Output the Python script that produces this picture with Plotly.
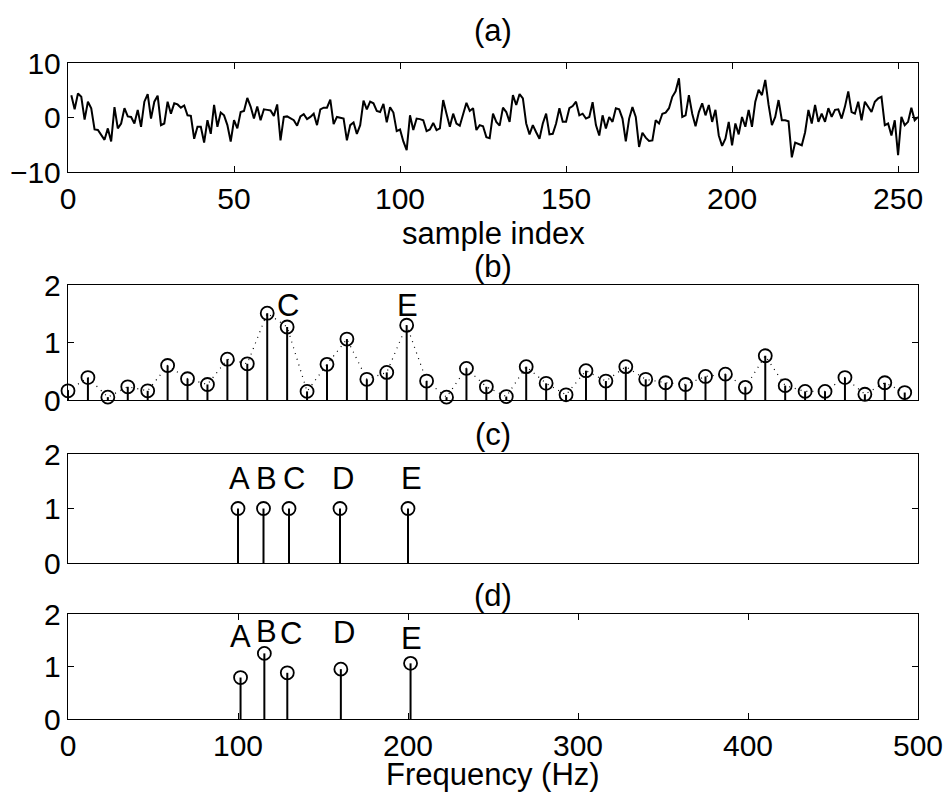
import plotly.graph_objects as go

# ---------------- data ----------------
signal = [
    4.1, 1.5, 4.4, 3.8, -0.4, 2.9, 1.7, -2.2, -2.3, -3.1,
    -4.1, -2.0, -4.4, 1.9, -2.0, -1.1, 1.7, 0.2, 0.1, -1.1,
    1.4, -1.7, 2.9, 4.3, -0.2, 2.9, 4.0, -1.4, -1.1, 2.9,
    0.7, 2.6, 2.4, 1.8, 2.2, 0.4, 0.3, -3.9, -1.7, -1.7,
    -4.6, -0.5, -3.0, 2.3, -1.7, 0.9, 0.4, -1.4, -4.4, -0.5,
    -2.0, 1.0, 1.2, 3.6, 2.0, -0.2, 2.0, -0.5, 1.5, 1.4,
    1.3, 0.3, 2.4, -4.2, 0.1, 0.2, -0.2, -0.5, -1.5, 0.2,
    0.6, -0.3, 0.1, 0.7, -1.4, 1.5, 1.8, 1.8, 3.3, -1.2,
    0.1, -0.1, -0.2, -4.2, -1.4, -0.9, -3.0, -1.4, 3.1, 1.5,
    2.9, 2.6, 1.2, 1.0, 2.5, -0.9, 1.9, 0.9, -2.5, -2.2,
    -4.4, -6.0, 0.4, -2.3, -0.2, -0.3, -0.5, -2.5, -2.2, -1.0,
    -2.3, -2.0, 3.2, 0.7, -1.7, 0.7, -1.1, -1.5, 0.7, 2.7,
    1.2, 1.7, -2.3, -1.4, -1.6, -3.6, -3.8, 0.7, -0.8, -1.5,
    1.8, 1.0, -0.8, 4.1, 2.3, 4.3, 3.5, -1.1, -3.1, -1.4,
    -2.7, -3.9, -1.1, 0.7, -3.1, -3.0, -1.1, 1.7, -0.8, -0.8,
    1.7, 2.1, 2.9, 0.4, 0.7, -0.2, 0.1, 2.8, -1.4, -3.3,
    0.4, -2.0, 0.1, -0.8, 1.7, 1.5, -0.2, -4.4, -0.2, 1.9,
    0.1, -5.4, -2.8, -3.7, -4.3, -4.2, -0.5, -1.1, 0.7, 0.9,
    1.7, 3.8, 4.8, 7.2, 0.1, 0.4, 4.1, 0.7, -1.6, 1.0,
    2.6, 0.4, 2.3, -0.8, 1.4, -3.3, -5.2, -3.9, -0.8, -5.1,
    -1.1, -3.1, 0.1, -1.7, 1.4, -1.7, 2.9, 5.1, 4.1, 6.9,
    2.3, -1.4, 0.1, 3.2, -0.5, -0.5, -0.7, -7.3, -4.6, -4.8,
    -5.1, -2.7, 1.4, -1.1, 2.3, -0.8, 0.7, -0.8, 1.7, 0.1,
    1.4, 1.5, -0.2, 2.0, 4.8, 1.0, 0.7, 2.9, -0.5, 2.9,
    2.0, 1.0, 2.9, 3.5, 3.8, -1.4, -1.1, -3.3, -0.5, -6.9,
    0.1, -1.4, -0.8, 1.8, -0.5, 0.1,
]
sample_index = list(range(1, len(signal) + 1))

freq_step = 3000 / 256
spec_mag = [
    0.16, 0.39, 0.05, 0.23, 0.16, 0.60, 0.37, 0.27, 0.71, 0.63,
    1.51, 1.27, 0.15, 0.62, 1.06, 0.36, 0.48, 1.30, 0.33, 0.05,
    0.55, 0.23, 0.06, 0.58, 0.29, 0.09, 0.51, 0.33, 0.58, 0.36,
    0.30, 0.27, 0.41, 0.45, 0.22, 0.77, 0.25, 0.15, 0.15, 0.39,
    0.10, 0.30, 0.13,
]
spec_freq = [k * freq_step for k in range(len(spec_mag))]

names = ["A", "B", "C", "D", "E"]
true_freq = [100, 115, 130, 160, 200]
true_amp = [1, 1, 1, 1, 1]
est_freq = [101.5, 115.5, 129, 160.5, 201.5]
est_amp = [0.79, 1.25, 0.88, 0.95, 1.06]

b_label_text = ["C", "E"]
b_label_x = [129.4, 199.7]
b_label_y = [1.65, 1.65]
c_label_x = [100.8, 116.5, 133, 162, 202]
c_label_y = [1.55, 1.55, 1.55, 1.55, 1.55]
d_label_x = [101.2, 116.9, 131, 162.4, 202]
d_label_y = [1.57, 1.66, 1.62, 1.64, 1.54]

x_ticks_a = [0, 50, 100, 150, 200, 250]
y_ticks_a = [-10, 0, 10]
y_text_a = ["\u221210", "0", "10"]
x_ticks_f = [0, 100, 200, 300, 400, 500]
y_ticks_f = [0, 1, 2]

# ---------------- figure ----------------
FONT = "Liberation Sans, Arial, Helvetica, sans-serif"
FS = 31
TFS = 30
fig = go.Figure()


def stems(freq, amp, xa, ya):
    xs, ys = [], []
    for f, a in zip(freq, amp):
        xs += [f, f, None]
        ys += [0, a, None]
    fig.add_trace(go.Scatter(x=xs, y=ys, mode="lines", xaxis=xa, yaxis=ya,
                             line=dict(color="black", width=2), hoverinfo="skip"))
    fig.add_trace(go.Scatter(x=freq, y=amp, mode="markers", xaxis=xa, yaxis=ya,
                             cliponaxis=False,
                             marker=dict(symbol="circle-open", size=13, color="black",
                                         line=dict(width=1.8, color="black"))))


# (a)
fig.add_trace(go.Scatter(x=sample_index, y=signal, mode="lines", xaxis="x", yaxis="y",
                         line=dict(color="black", width=2)))
# (b)
fig.add_trace(go.Scatter(x=spec_freq, y=spec_mag, mode="lines", xaxis="x2", yaxis="y2",
                         line=dict(color="black", width=1.2, dash="1px,5px")))
stems(spec_freq, spec_mag, "x2", "y2")
# (c)
stems(true_freq, true_amp, "x3", "y3")
# (d)
stems(est_freq, est_amp, "x4", "y4")

W, H = 946, 793
xdom = [68 / W, 918 / W]


def ydom(top, bottom):
    return [1 - bottom / H, 1 - top / H]


base = dict(showline=True, linecolor="black", linewidth=1.4, mirror="ticks",
            ticks="inside", ticklen=6, tickwidth=1.2, tickcolor="black",
            showgrid=False, zeroline=False, automargin=False,
            tickfont=dict(family=FONT, size=TFS, color="black"))

noticks = dict(showline=True, linecolor="black", linewidth=1.4, mirror=True,
               ticks="", showticklabels=False, showgrid=False, zeroline=False,
               automargin=False)

fig.update_layout(
    width=W, height=H, margin=dict(l=0, r=0, t=0, b=0, autoexpand=False),
    paper_bgcolor="white", plot_bgcolor="white", showlegend=False,
    xaxis=dict(base, domain=xdom, range=[0, 256], tickvals=x_ticks_a, anchor="y"),
    yaxis=dict(base, domain=ydom(63, 172), range=[-10, 10], tickvals=y_ticks_a,
               ticktext=y_text_a, anchor="x"),
    xaxis2=dict(noticks, domain=xdom, range=[0, 500], anchor="y2"),
    yaxis2=dict(base, domain=ydom(285, 400), range=[0, 2], tickvals=y_ticks_f, anchor="x2"),
    xaxis3=dict(noticks, domain=xdom, range=[0, 500], anchor="y3"),
    yaxis3=dict(base, domain=ydom(454, 563), range=[0, 2], tickvals=y_ticks_f, anchor="x3"),
    xaxis4=dict(base, domain=xdom, range=[0, 500], tickvals=x_ticks_f, anchor="y4"),
    yaxis4=dict(base, domain=ydom(614, 719), range=[0, 2], tickvals=y_ticks_f, anchor="x4"),
)

ann = []
xc = (xdom[0] + xdom[1]) / 2
for txt, ypix in [("(a)", 31), ("sample index", 233), ("(b)", 266), ("(c)", 434),
                  ("(d)", 595), ("Frequency (Hz)", 774)]:
    ann.append(dict(text=txt, x=xc, y=1 - ypix / H, xref="paper", yref="paper",
                    showarrow=False, xanchor="center", yanchor="middle",
                    font=dict(family=FONT, size=FS, color="black")))
for t, x, y in zip(b_label_text, b_label_x, b_label_y):
    ann.append(dict(text=t, x=x, y=y, xref="x2", yref="y2", showarrow=False,
                    font=dict(family=FONT, size=FS, color="black")))
for t, x, y in zip(names, c_label_x, c_label_y):
    ann.append(dict(text=t, x=x, y=y, xref="x3", yref="y3", showarrow=False,
                    font=dict(family=FONT, size=FS, color="black")))
for t, x, y in zip(names, d_label_x, d_label_y):
    ann.append(dict(text=t, x=x, y=y, xref="x4", yref="y4", showarrow=False,
                    font=dict(family=FONT, size=FS, color="black")))
fig.update_layout(annotations=ann)

fig.write_html("out.html",
               config={"displayModeBar": False},
               post_script="document.body.style.margin='0px';"
                           "document.body.style.padding='0px';"
                           "document.body.style.overflow='hidden';")
